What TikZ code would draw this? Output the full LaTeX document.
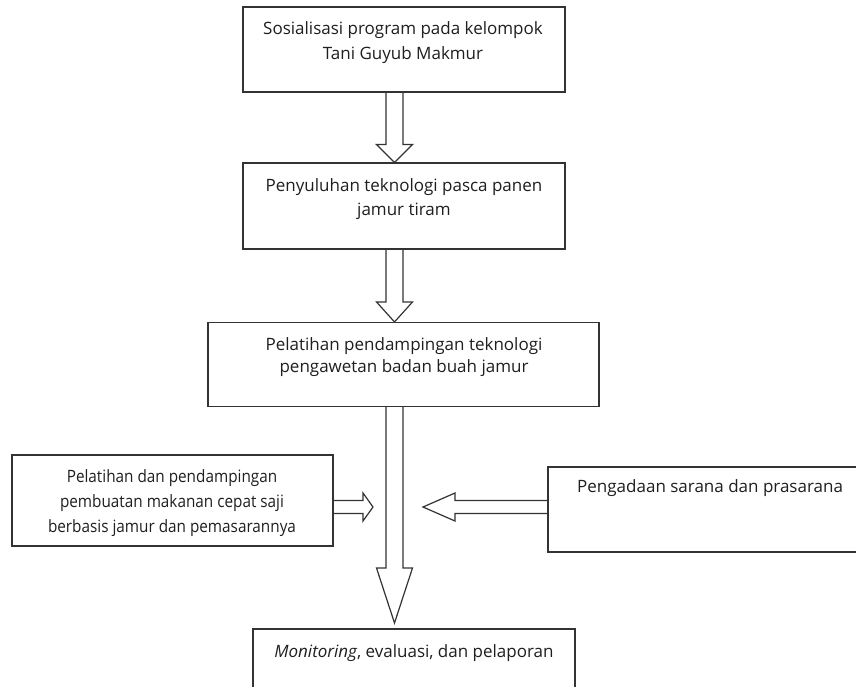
\documentclass[tikz,border=0pt]{standalone}
\usepackage{fontspec}
\setmainfont{Open Sans}
\newfontfamily\condfont[FakeStretch=0.9]{Open Sans}
\usetikzlibrary{calc}
\tikzset{
  box/.style={draw=black!80, line width=1.1pt, rectangle, inner sep=0pt},
  txt/.style={align=center, font=\fontsize{17}{25}\selectfont, text=black!88, inner sep=0pt},
  blk/.style={draw=black!80, line width=1.2pt, line join=miter},
}
% vertical block arrow: start (shaft top centre), tip, head length
\newcommand{\blkdown}[3]{%
  \draw[blk] let \p1=(#1), \p2=(#2) in
    (\x1-8.5pt,\y1) -- (\x1-8.5pt,\y2+#3) -- (\x1-18pt,\y2+#3) -- (\x2,\y2)
    -- (\x1+18pt,\y2+#3) -- (\x1+8.5pt,\y2+#3) -- (\x1+8.5pt,\y1);}
% horizontal block arrow pointing right
\newcommand{\blkright}[3]{%
  \draw[blk] let \p1=(#1), \p2=(#2) in
    (\x1,\y1+6.5pt) -- (\x2-#3,\y1+6.5pt) -- (\x2-#3,\y1+14pt) -- (\x2,\y2)
    -- (\x2-#3,\y1-14pt) -- (\x2-#3,\y1-6.5pt) -- (\x1,\y1-6.5pt);}
% horizontal block arrow pointing left
\newcommand{\blkleft}[3]{%
  \draw[blk] let \p1=(#1), \p2=(#2) in
    (\x1,\y1+6.5pt) -- (\x2+#3,\y1+6.5pt) -- (\x2+#3,\y1+14pt) -- (\x2,\y2)
    -- (\x2+#3,\y1-14pt) -- (\x2+#3,\y1-6.5pt) -- (\x1,\y1-6.5pt);}
\begin{document}
\begin{tikzpicture}[x=1pt,y=-1pt]
\useasboundingbox (0,0) rectangle (856,687);
\clip (0,0) rectangle (856,687);
\fill[white] (0,0) rectangle (856,687);

% boxes
\node[box, minimum width=322pt, minimum height=85pt] (box1) at (404,49.5) {};
\node[box, minimum width=322pt, minimum height=86pt] (box2) at (404,206) {};
\node[box, minimum width=391pt, minimum height=84pt] (box3) at (403.5,364.5) {};
\node[box, minimum width=321pt, minimum height=91pt] (boxl) at (172.5,500.5) {};
\node[box, minimum width=332pt, minimum height=85pt] (boxr) at (714,509.5) {};
\node[box, minimum width=322pt, minimum height=100pt] (boxb) at (414,679) {};

% texts
\node[txt] (t1) at (403,42.5) {Sosialisasi program pada kelompok\\Tani Guyub Makmur};
\node[txt, font=\fontsize{17}{24}\selectfont] (t2) at (404,199) {Penyuluhan teknologi pasca panen\\jamur tiram};
\node[txt, font=\fontsize{17}{22}\selectfont] (t3) at (404,357.5) {Pelatihan pendampingan teknologi\\pengawetan badan buah jamur};
\node[txt, font=\condfont\fontsize{17}{25}\selectfont] (tl) at (172,503) {Pelatihan dan pendampingan\\pembuatan makanan cepat saji\\berbasis jamur dan pemasarannya};
\node[txt, anchor=west] (tr) at (577,488) {Pengadaan sarana dan prasarana};
\node[txt] (tb) at (414,653) {\textit{Monitoring}, evaluasi, dan pelaporan};

% arrow guide coordinates
\coordinate (cx) at (394.5,0);
\coordinate (ay) at (0,507);
\coordinate (tip3) at (394.5,623);
\coordinate (tipr) at (373,507);
\coordinate (tipl) at (423,507);

% block arrows
\blkdown{box1.south -| cx}{box2.north -| cx}{18pt}
\blkdown{box2.south -| cx}{box3.north -| cx}{20pt}
\blkdown{box3.south -| cx}{tip3}{55pt}
\blkright{boxl.east |- ay}{tipr}{10pt}
\blkleft{boxr.west |- ay}{tipl}{32pt}
\end{tikzpicture}
\end{document}
